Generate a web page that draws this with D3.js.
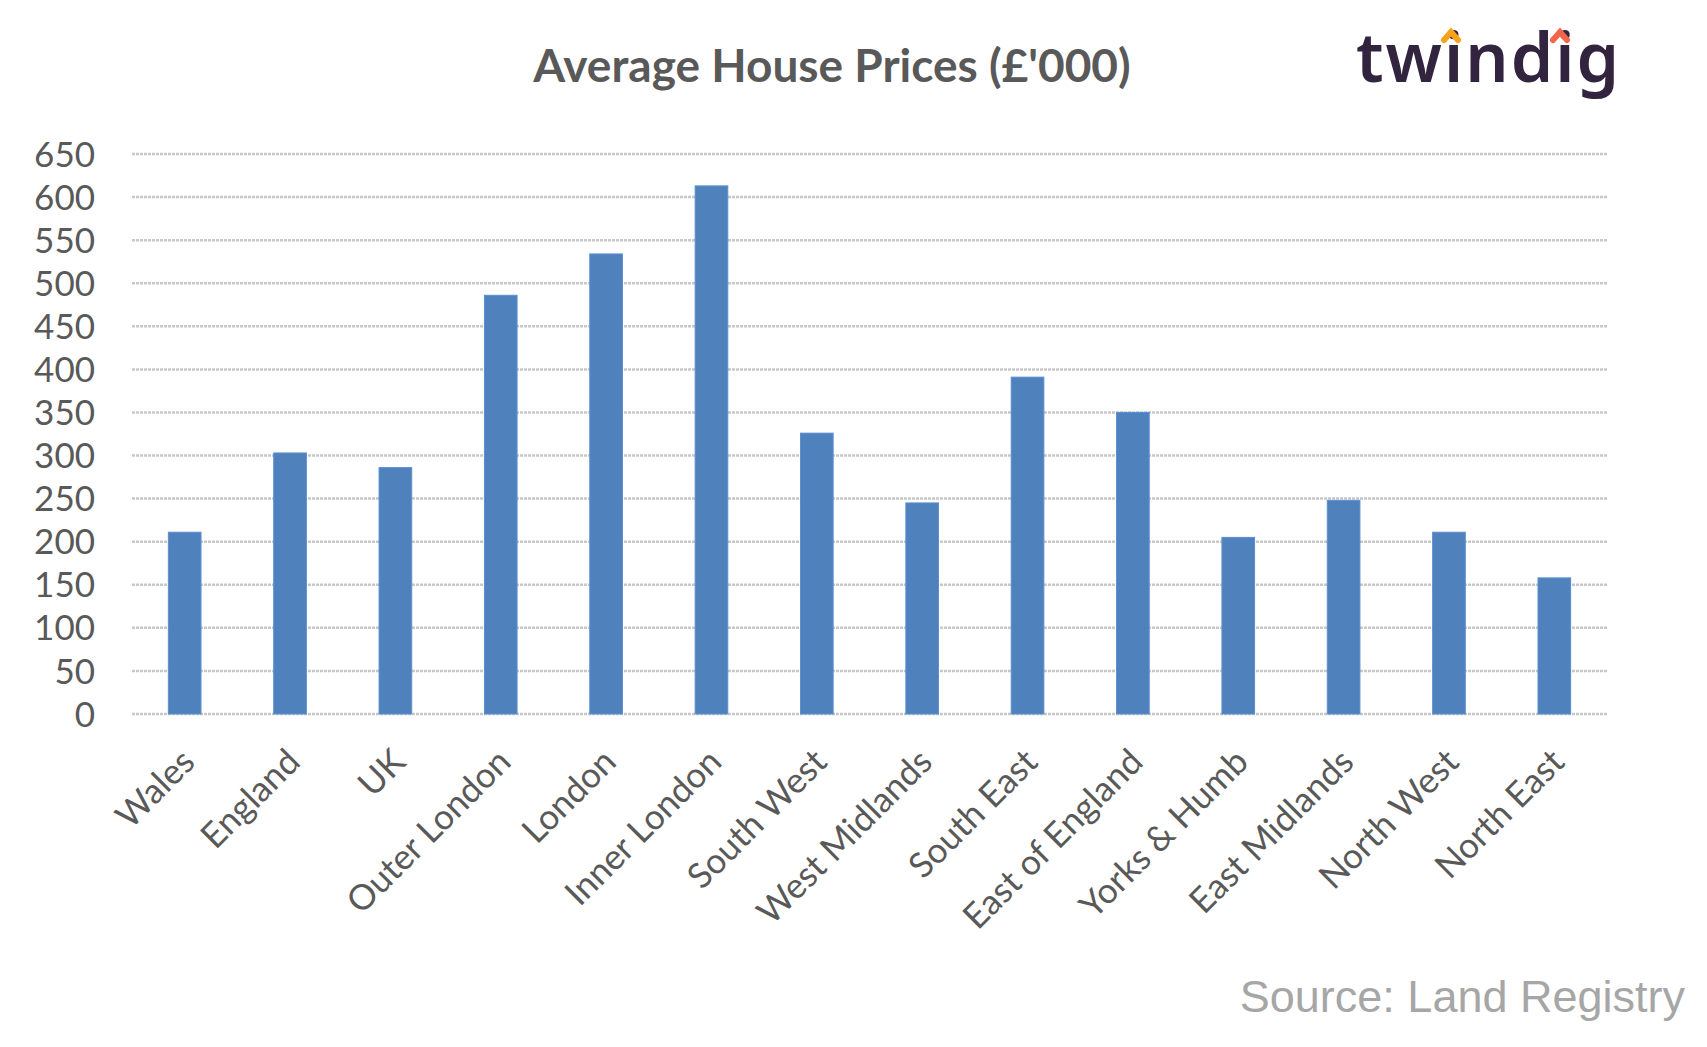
<!DOCTYPE html>
<html><head><meta charset="utf-8">
<script src="https://cdn.jsdelivr.net/npm/d3@7"></script>
<style>body{margin:0;background:#fff}</style></head>
<body><svg id="c" width="1707" height="1047"></svg>
<script>
const categories = ["Wales","England","UK","Outer London","London","Inner London","South West","West Midlands","South East","East of England","Yorks & Humb","East Midlands","North West","North East"];
const values = [211,303,286,486,534,613,326,245,391,350,205,248,211,158];
const yTicks = [0,50,100,150,200,250,300,350,400,450,500,550,600,650];

const svg = d3.select("#c");
const L=132,R=1607,T=154,B=714;
const x = d3.scaleBand().domain(categories).range([L,R]).paddingInner(0.69).paddingOuter(0.345);
const y = d3.scaleLinear().domain([0,650]).range([B,T]);
const font = "Lato, 'Open Sans', sans-serif";

svg.append("g").selectAll("line").data(yTicks).join("line")
 .attr("x1",L).attr("x2",R).attr("y1",d=>y(d)).attr("y2",d=>y(d))
 .attr("stroke","#c8c8c8").attr("stroke-width",2.5).attr("stroke-dasharray","3,1");

svg.append("g").selectAll("text").data(yTicks).join("text")
 .attr("x",95).attr("y",d=>y(d)).attr("dy","0.36em").attr("text-anchor","end")
 .attr("font-family",font).attr("font-size",35).attr("fill","#595959").text(d=>d);

svg.append("g").selectAll("rect").data(values).join("rect")
 .attr("x",(d,i)=>x(categories[i])).attr("width",x.bandwidth())
 .attr("y",d=>y(d)).attr("height",d=>B-y(d)).attr("fill","#4f81bd").attr("stroke","#5b8fd0").attr("stroke-width",1);

svg.append("g").selectAll("text").data(categories).join("text")
 .attr("transform",d=>`translate(${x(d)+x.bandwidth()/2+12},${B+50}) rotate(-45)`)
 .attr("text-anchor","end").attr("font-family",font).attr("font-size",35).attr("fill","#595959").text(d=>d);

svg.append("text").attr("x",832).attr("y",82).attr("text-anchor","middle")
 .attr("font-family",font).attr("font-weight","bold").attr("font-size",46).attr("fill","#595959").text("Average House Prices (£'000)");

svg.append("text").attr("x",1356).attr("y",82).attr("font-family","'Noto Sans', sans-serif").attr("font-weight",600)
 .attr("font-size",68).attr("fill","#32243f").attr("letter-spacing",2).text("twindig");
svg.append("path").attr("d","M1444,40 l7,-8 l7,8").attr("stroke","#f7a21b").attr("stroke-width",6).attr("fill","none").attr("stroke-linecap","round");
svg.append("path").attr("d","M1553,40 l7,-8 l7,8").attr("stroke","#f2674a").attr("stroke-width",6).attr("fill","none").attr("stroke-linecap","round");

svg.append("text").attr("x",1685).attr("y",1012).attr("text-anchor","end")
 .attr("font-family","'Liberation Sans', Arial, sans-serif").attr("font-size",45).attr("fill","#a6a6a6").text("Source: Land Registry");
</script></body></html>
